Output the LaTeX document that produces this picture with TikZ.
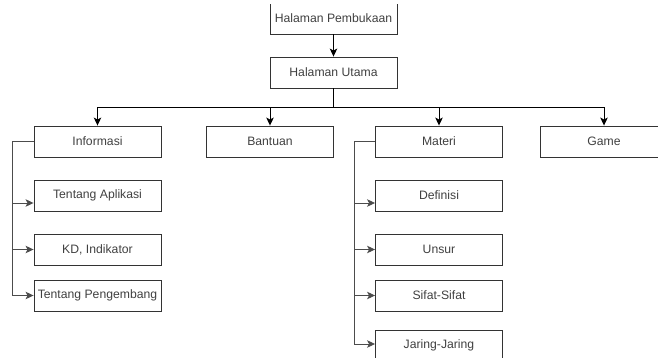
\documentclass[tikz,border=0pt]{standalone}
\usepackage{fontspec}
\setmainfont{Liberation Sans}
\usepackage{tikz}
\usetikzlibrary{arrows.meta,positioning}
\tikzset{
  menu/.style={draw=black!80, line width=0.9pt, minimum width=127pt, minimum height=31pt,
    inner sep=0pt, text=black!75, font=\fontsize{12.2}{14}\selectfont},
  link/.style={line width=0.9pt, -{Stealth[length=8pt,width=7.5pt,inset=2pt]}},
  sublink/.style={link, draw=black!70}
}

\begin{document}
\begin{tikzpicture}[x=1pt,y=-1pt]
\useasboundingbox (0,0) rectangle (658,358);
\clip (0,5) rectangle (658,358);
\node[menu] (buka) at (333.5,18.5) {Halaman Pembukaan};
\node[menu] (utama) at (333.5,72.5) {Halaman Utama};
\node[menu] (info) at (97.5,141.5) {Informasi};
\node[menu] (bantu) at (270,141.5) {Bantuan};
\node[menu] (materi) at (439,141.5) {Materi};
\node[menu] (game) at (604,141.5) {Game};
\node[menu] (aplikasi) at (97.5,195.5) {Tentang Aplikasi};
\node[menu] (kd) at (97.5,249.5) {KD, Indikator};
\node[menu] (kembang) at (97.5,295.5) {Tentang Pengembang};
\node[menu] (definisi) at (439,195.5) {Definisi};
\node[menu] (unsur) at (439,249.5) {Unsur};
\node[menu] (sifat) at (439,295.5) {Sifat-Sifat};
\node[menu] (jaring) at (439,345.5) {Jaring-Jaring};
\draw[link] (buka) -- (utama);
\draw[line width=0.9pt] (utama.south) -- ++(0,19) coordinate (bus);
\draw[link] (bus) -| (info.north);
\draw[link] (bus) -| (bantu.north);
\draw[link] (bus) -| (materi.north);
\draw[link] (bus) -| (game.north);
\draw[sublink] (info.west) -- ++(-21,0) |- ([yshift=-7.5pt]aplikasi.west);
\draw[sublink] (info.west) -- ++(-21,0) |- (kd.west);
\draw[sublink] (info.west) -- ++(-21,0) |- (kembang.west);
\draw[sublink] (materi.west) -- ++(-21,0) |- ([yshift=-7.5pt]definisi.west);
\draw[sublink] (materi.west) -- ++(-21,0) |- (unsur.west);
\draw[sublink] (materi.west) -- ++(-21,0) |- (sifat.west);
\draw[sublink] (materi.west) -- ++(-21,0) |- ([yshift=1.5pt]jaring.west);
\end{tikzpicture}
\end{document}
